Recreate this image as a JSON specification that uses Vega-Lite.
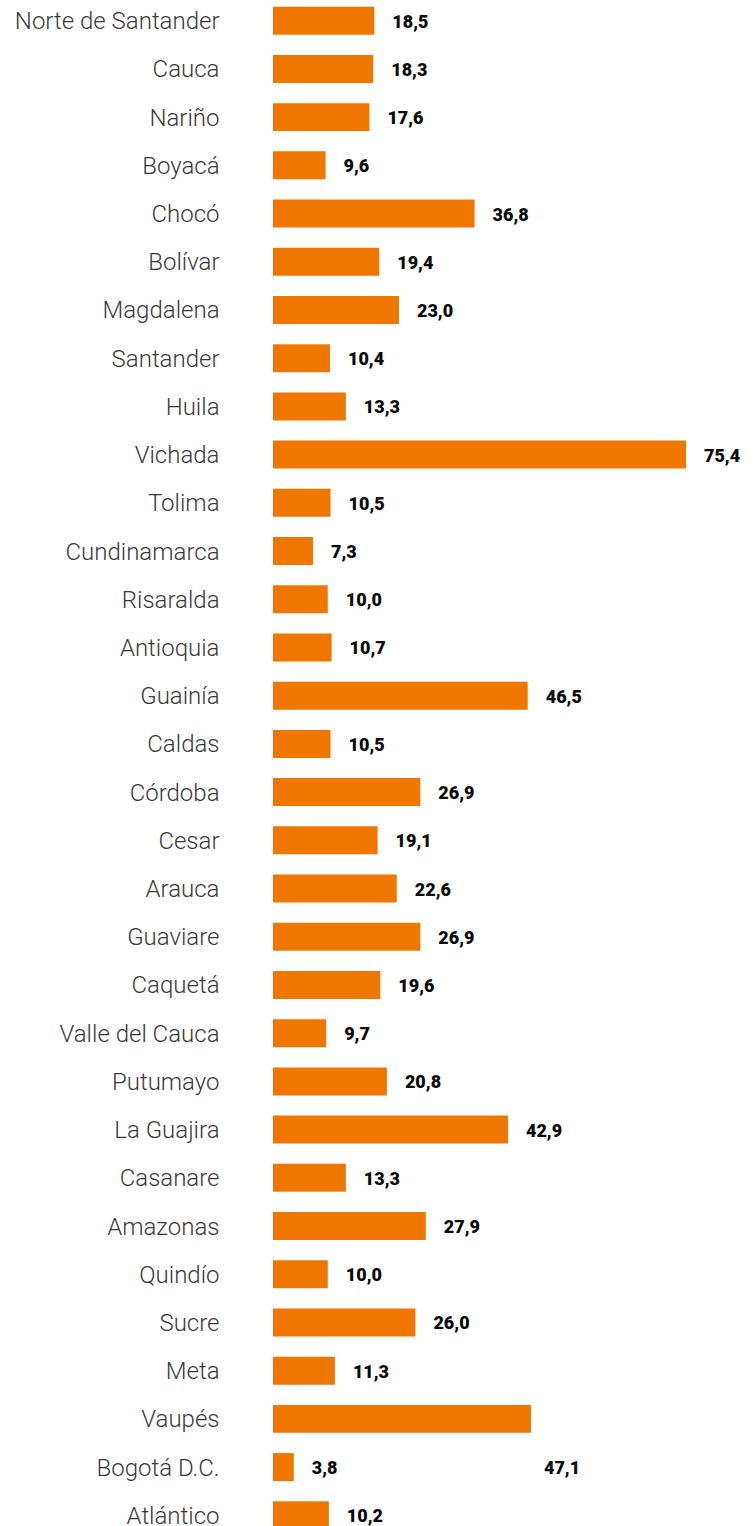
{
  "$schema": "https://vega.github.io/schema/vega-lite/v6.json",
  "width": 482,
  "height": 1536,
  "autosize": {"type": "none"},
  "padding": {"left": 273, "top": 0, "right": 0, "bottom": 0},
  "background": "#ffffff",
  "config": {
    "view": {"stroke": null},
    "locale": {"number": {"decimal": ",", "thousands": ".", "grouping": [3], "currency": ["", ""]}}
  },
  "data": {
    "values": [
      {"departamento": "Norte de Santander", "valor": 18.5},
      {"departamento": "Cauca", "valor": 18.3},
      {"departamento": "Nariño", "valor": 17.6},
      {"departamento": "Boyacá", "valor": 9.6},
      {"departamento": "Chocó", "valor": 36.8},
      {"departamento": "Bolívar", "valor": 19.4},
      {"departamento": "Magdalena", "valor": 23.0},
      {"departamento": "Santander", "valor": 10.4},
      {"departamento": "Huila", "valor": 13.3},
      {"departamento": "Vichada", "valor": 75.4},
      {"departamento": "Tolima", "valor": 10.5},
      {"departamento": "Cundinamarca", "valor": 7.3},
      {"departamento": "Risaralda", "valor": 10.0},
      {"departamento": "Antioquia", "valor": 10.7},
      {"departamento": "Guainía", "valor": 46.5},
      {"departamento": "Caldas", "valor": 10.5},
      {"departamento": "Córdoba", "valor": 26.9},
      {"departamento": "Cesar", "valor": 19.1},
      {"departamento": "Arauca", "valor": 22.6},
      {"departamento": "Guaviare", "valor": 26.9},
      {"departamento": "Caquetá", "valor": 19.6},
      {"departamento": "Valle del Cauca", "valor": 9.7},
      {"departamento": "Putumayo", "valor": 20.8},
      {"departamento": "La Guajira", "valor": 42.9},
      {"departamento": "Casanare", "valor": 13.3},
      {"departamento": "Amazonas", "valor": 27.9},
      {"departamento": "Quindío", "valor": 10.0},
      {"departamento": "Sucre", "valor": 26.0},
      {"departamento": "Meta", "valor": 11.3},
      {"departamento": "Vaupés", "valor": 47.1},
      {"departamento": "Bogotá D.C.", "valor": 3.8},
      {"departamento": "Atlántico", "valor": 10.2}
    ]
  },
  "encoding": {
    "y": {
      "field": "departamento",
      "type": "nominal",
      "sort": null,
      "scale": {"paddingInner": 0.4195, "paddingOuter": 0.139},
      "axis": {
        "title": null,
        "domain": false,
        "ticks": false,
        "labelPadding": 54,
        "labelFont": "Roboto",
        "labelFontWeight": 300,
        "labelFontSize": 24,
        "labelColor": "#3a3a3a",
        "labelLimit": 400,
        "labelOffset": 1.5
      }
    },
    "x": {
      "field": "valor",
      "type": "quantitative",
      "scale": {"domain": [0, 88], "nice": false},
      "axis": null
    }
  },
  "layer": [
    {"mark": {"type": "bar", "color": "#EF7700"}},
    {
      "transform": [{"filter": "datum.departamento !== 'Vaupés'"}],
      "mark": {"type": "text", "align": "left", "baseline": "middle", "dx": 18, "dy": 2, "font": "Roboto", "fontWeight": 900, "fontSize": 18, "color": "#0a0a0a"},
      "encoding": {"text": {"field": "valor", "type": "quantitative", "format": ".1f"}}
    },
    {
      "transform": [{"filter": "datum.departamento === 'Vaupés'"}],
      "mark": {"type": "text", "align": "left", "baseline": "middle", "dx": 13, "dy": 50, "font": "Roboto", "fontWeight": 900, "fontSize": 18, "color": "#0a0a0a"},
      "encoding": {"text": {"field": "valor", "type": "quantitative", "format": ".1f"}}
    }
  ]
}
